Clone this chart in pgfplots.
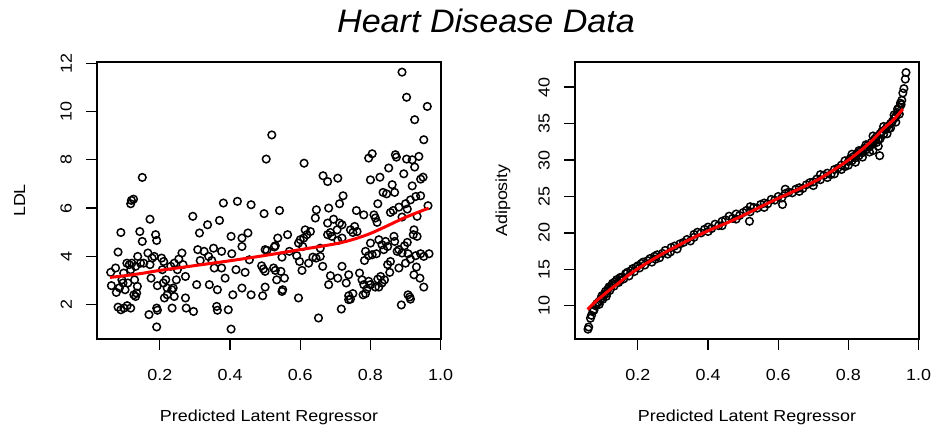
\documentclass[border=0pt]{standalone}
\usepackage{fontspec}
\setmainfont{Liberation Sans}[FakeStretch=1.12]
\newfontfamily\titlefont{Liberation Sans}[FakeStretch=1.05]
\usepackage{pgfplots}
\pgfplotsset{compat=1.18}
\pgfplotstableread{
x y
0.150 7.27
0.119 6.32
0.125 6.37
0.117 6.18
0.089 4.99
0.081 4.18
0.060 3.34
0.074 3.52
0.062 2.79
0.076 2.51
0.085 2.70
0.092 3.03
0.097 3.31
0.106 3.72
0.113 3.66
0.117 3.45
0.120 3.72
0.131 3.59
0.137 4.00
0.128 3.03
0.136 2.76
0.126 2.41
0.131 2.34
0.134 2.48
0.081 1.90
0.089 1.79
0.098 1.86
0.107 1.96
0.117 1.86
0.095 2.90
0.101 2.62
0.109 2.90
0.143 5.03
0.150 4.62
0.172 5.54
0.166 4.14
0.188 4.90
0.191 4.66
0.145 3.72
0.154 3.72
0.172 3.66
0.178 3.93
0.175 3.10
0.184 4.00
0.193 2.79
0.191 1.86
0.193 1.77
0.169 1.59
0.191 1.08
0.205 3.93
0.211 3.79
0.207 3.45
0.217 3.03
0.210 2.90
0.221 2.69
0.231 3.59
0.241 3.72
0.250 3.45
0.247 3.03
0.234 2.62
0.221 2.41
0.213 2.28
0.241 2.34
0.238 2.69
0.235 1.86
0.263 4.14
0.254 3.89
0.266 3.66
0.273 3.17
0.273 2.28
0.275 1.86
0.296 1.72
0.294 5.66
0.308 4.28
0.313 4.97
0.305 2.83
0.315 3.83
0.326 4.21
0.336 5.31
0.341 2.83
0.339 4.00
0.348 3.83
0.353 4.34
0.355 3.52
0.370 5.49
0.364 2.62
0.362 1.93
0.364 1.77
0.376 4.21
0.376 3.52
0.386 3.10
0.381 6.21
0.395 1.79
0.403 4.83
0.405 4.11
0.403 0.99
0.408 2.41
0.417 3.45
0.421 6.28
0.434 2.69
0.434 4.41
0.434 4.76
0.443 3.34
0.451 4.97
0.460 6.14
0.460 2.41
0.455 3.86
0.890 11.63
0.903 10.59
0.962 10.21
0.926 9.66
0.952 8.83
0.519 9.03
0.503 8.03
0.611 7.86
0.795 8.07
0.805 8.25
0.871 8.21
0.874 8.11
0.903 8.03
0.919 8.00
0.938 8.14
0.926 7.70
0.852 7.66
0.895 7.42
0.665 7.34
0.678 7.10
0.707 7.24
0.800 7.17
0.827 7.28
0.943 7.20
0.950 7.28
0.919 6.92
0.862 6.97
0.836 6.65
0.846 6.59
0.869 6.65
0.722 6.51
0.712 6.18
0.497 5.77
0.541 5.90
0.646 5.93
0.643 5.59
0.681 6.00
0.760 5.90
0.821 6.18
0.857 5.82
0.865 5.90
0.881 6.04
0.900 6.18
0.914 6.34
0.929 6.48
0.943 6.51
0.964 6.10
0.905 5.96
0.933 5.66
0.890 5.63
0.810 5.72
0.814 5.59
0.819 5.41
0.781 5.72
0.712 5.38
0.695 5.54
0.678 5.38
0.678 4.90
0.686 4.99
0.690 4.83
0.705 5.10
0.719 5.31
0.743 5.10
0.755 5.24
0.762 5.03
0.750 4.99
0.614 5.10
0.629 5.03
0.619 4.90
0.610 4.76
0.564 4.90
0.536 4.76
0.529 4.44
0.526 4.39
0.500 4.28
0.505 4.25
0.569 4.21
0.600 4.69
0.595 4.55
0.607 4.41
0.657 4.34
0.707 4.66
0.719 4.76
0.800 4.55
0.824 4.69
0.833 4.48
0.843 4.62
0.849 4.41
0.867 4.83
0.869 4.62
0.881 4.28
0.897 4.44
0.905 4.58
0.922 4.90
0.924 5.10
0.933 4.83
0.786 4.21
0.795 4.03
0.805 4.07
0.817 4.11
0.838 4.28
0.876 4.21
0.890 4.14
0.907 4.11
0.914 3.89
0.929 4.03
0.943 4.11
0.967 4.11
0.952 4.00
0.783 3.83
0.548 3.97
0.590 4.03
0.598 3.79
0.624 3.72
0.636 3.97
0.645 3.93
0.657 4.00
0.664 3.59
0.490 3.61
0.495 3.48
0.524 3.52
0.529 3.42
0.545 3.38
0.555 3.10
0.500 3.38
0.533 3.03
0.605 3.42
0.719 3.59
0.686 3.20
0.707 3.10
0.738 3.24
0.769 3.31
0.776 3.03
0.795 2.97
0.821 3.06
0.829 3.17
0.849 3.66
0.857 3.79
0.855 3.34
0.881 3.52
0.900 3.72
0.924 3.24
0.931 3.56
0.941 3.10
0.952 2.73
0.681 2.83
0.731 2.90
0.781 2.83
0.800 2.83
0.814 2.73
0.824 2.73
0.833 2.90
0.840 3.03
0.790 2.65
0.786 2.46
0.779 2.41
0.750 2.46
0.738 2.37
0.743 2.23
0.738 2.21
0.493 2.37
0.500 2.73
0.550 2.62
0.548 2.55
0.595 2.28
0.717 1.82
0.652 1.45
0.888 1.99
0.907 2.41
0.912 2.32
0.914 2.23
}\ldl
\pgfplotstableread{
x y
0.058 3.13
0.10 3.20
0.15 3.30
0.20 3.42
0.30 3.62
0.40 3.82
0.50 4.04
0.60 4.28
0.70 4.52
0.75 4.70
0.80 4.95
0.85 5.28
0.90 5.62
0.966 6.00
}\ldlfit
\pgfplotstableread{
x y
0.058 6.8
0.060 7.1
0.065 8.3
0.068 8.7
0.072 9.3
0.075 9.4
0.080 10.0
0.083 10.3
0.088 10.5
0.090 10.2
0.095 11.0
0.098 11.4
0.100 10.9
0.105 11.6
0.108 12.0
0.110 11.3
0.112 11.7
0.115 12.3
0.118 12.6
0.120 12.1
0.125 12.8
0.128 13.1
0.132 12.7
0.135 13.3
0.140 13.6
0.145 13.2
0.150 13.5
0.150 13.9
0.155 13.9
0.160 13.7
0.165 14.4
0.170 14.6
0.175 14.1
0.180 14.8
0.185 15.1
0.190 14.7
0.195 15.3
0.200 15.5
0.205 15.2
0.210 15.8
0.215 16.0
0.220 15.6
0.228 16.2
0.235 16.5
0.240 16.0
0.248 16.8
0.250 16.4
0.255 17.0
0.262 16.6
0.270 17.2
0.278 17.6
0.285 17.1
0.293 17.4
0.295 18.0
0.305 18.2
0.312 17.8
0.320 18.5
0.330 18.7
0.340 19.1
0.350 18.9
0.360 19.8
0.360 19.4
0.370 20.1
0.380 20.0
0.390 20.5
0.400 20.8
0.400 20.2
0.410 20.6
0.420 21.2
0.430 21.0
0.440 21.6
0.440 21.0
0.450 21.8
0.460 22.3
0.470 22.0
0.480 22.6
0.480 21.9
0.490 22.4
0.500 22.8
0.510 23.1
0.518 21.6
0.520 22.9
0.520 23.6
0.530 23.5
0.540 23.4
0.550 23.9
0.560 24.1
0.560 23.5
0.570 24.0
0.580 24.6
0.590 24.5
0.600 25.0
0.610 24.8
0.612 23.9
0.620 25.4
0.620 26.0
0.630 25.6
0.640 25.5
0.650 26.0
0.660 26.2
0.660 25.7
0.670 26.1
0.680 26.6
0.690 26.9
0.700 27.0
0.700 26.5
0.710 27.4
0.720 27.3
0.720 28.0
0.730 27.9
0.740 28.2
0.740 27.6
0.750 28.0
0.760 28.7
0.760 28.1
0.770 28.9
0.780 29.3
0.780 28.7
0.790 29.1
0.790 29.9
0.800 29.8
0.800 29.3
0.805 30.2
0.810 29.9
0.810 30.8
0.815 30.5
0.820 30.3
0.820 29.7
0.825 30.9
0.830 30.6
0.830 31.3
0.835 31.2
0.840 31.0
0.840 30.4
0.845 31.6
0.850 31.4
0.850 32.1
0.855 32.0
0.860 31.8
0.860 31.1
0.865 32.4
0.870 31.3
0.870 32.2
0.870 33.3
0.875 32.9
0.880 33.2
0.880 32.4
0.885 31.9
0.885 32.8
0.889 30.6
0.890 33.6
0.890 32.9
0.895 33.9
0.900 33.5
0.900 34.6
0.905 34.2
0.910 34.6
0.910 33.6
0.915 34.3
0.920 35.0
0.920 34.4
0.925 35.3
0.930 35.7
0.930 36.2
0.935 36.0
0.935 35.2
0.940 36.5
0.940 37.0
0.945 37.2
0.945 36.3
0.948 37.8
0.950 37.6
0.952 38.2
0.955 39.2
0.958 39.8
0.962 41.1
0.964 42.0
}\adip
\pgfplotstableread{
x y
0.057 9.5
0.08 10.6
0.10 11.4
0.12 12.2
0.15 13.3
0.17 14.1
0.20 15.1
0.23 16.0
0.265 17.0
0.30 17.9
0.36 19.4
0.41 20.5
0.455 21.4
0.50 22.4
0.53 23.1
0.58 24.3
0.63 25.4
0.68 26.5
0.72 27.5
0.76 28.7
0.80 30.0
0.84 31.5
0.87 32.8
0.90 34.3
0.93 35.6
0.955 37.0
}\adipfit
\begin{document}
\begin{tikzpicture}
\useasboundingbox (0,0) rectangle (936bp,431bp);
\pgfplotsset{rstyle/.style={
  scale only axis, width=344bp, height=277bp, anchor=south west,
  clip marker paths=true,
  axis line style={line width=1.3bp},
  tick style={line width=1.3bp, black},
  xtick pos=bottom, ytick pos=left, tick align=outside,
  major tick length=11bp,
  tick label style={font=\fontsize{16bp}{19bp}\selectfont, inner sep=0pt},
  /pgf/number format/assume math mode=true,
  xmin=0.021, xmax=1.001,
  xtick={0.2,0.4,0.6,0.8,1.0}, xticklabels={0.2,0.4,0.6,0.8,1.0},
  xticklabel shift=19bp,
  yticklabel shift=14bp,
  yticklabel style={rotate=90, anchor=south},
  rscatter/.style={only marks, mark=o, mark size=3.8bp, line width=1.5bp, black},
  fitline/.style={red, line width=3bp, no marks, smooth},
}}
\begin{axis}[rstyle, at={(97bp,92bp)},
  ymin=0.58, ymax=12.05, ytick={2,4,6,8,10,12}]
\addplot[rscatter] table {\ldl};
\addplot[fitline] table {\ldlfit};
\end{axis}
\begin{axis}[rstyle, at={(575bp,92bp)},
  ymin=5.45, ymax=43.45, ytick={10,15,20,25,30,35,40}]
\addplot[rscatter] table {\adip};
\addplot[fitline] table {\adipfit};
\end{axis}
\node[anchor=base, font=\fontsize{16bp}{19bp}\selectfont] at (269bp,9.3bp) {Predicted Latent Regressor};
\node[anchor=base, font=\fontsize{16bp}{19bp}\selectfont] at (747bp,9.3bp) {Predicted Latent Regressor};
\node[anchor=base, rotate=90, font=\fontsize{16bp}{19bp}\selectfont] at (25bp,230.5bp) {LDL};
\node[anchor=base, rotate=90, font=\fontsize{16bp}{19bp}\selectfont] at (507bp,230.5bp) {Adiposity};
\node[anchor=base, font=\fontsize{32.5bp}{38bp}\titlefont\itshape] at (486bp,398bp) {Heart Disease Data};
\end{tikzpicture}
\end{document}
